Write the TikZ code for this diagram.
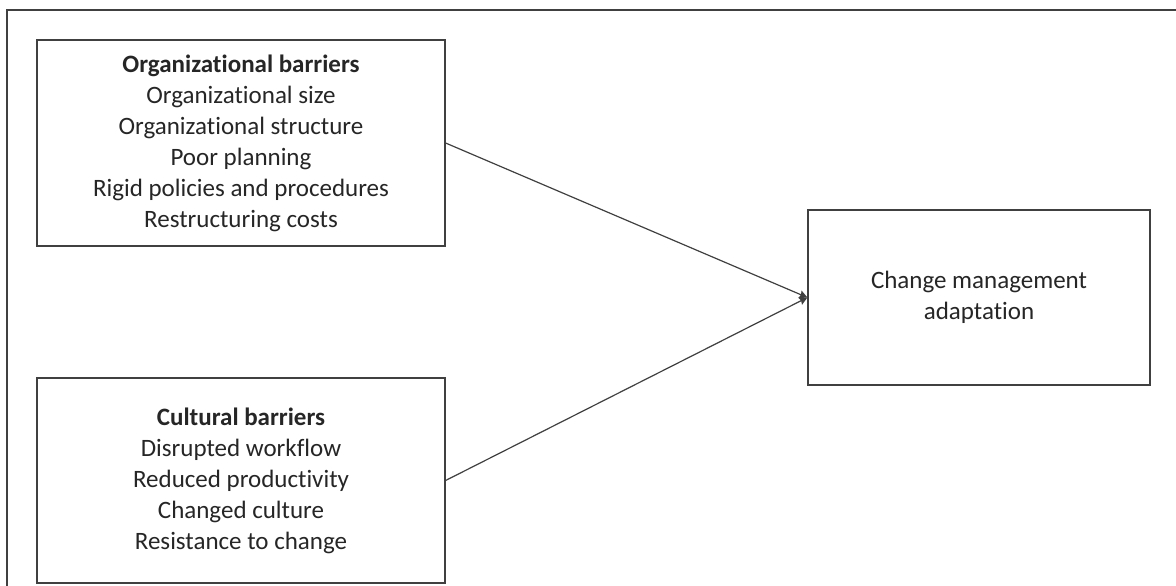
\documentclass[tikz,border=0pt]{standalone}
\usepackage{fontspec}
\setmainfont{Carlito}[Ligatures=CommonOff]
\usetikzlibrary{arrows.meta}
\definecolor{linegray}{HTML}{404040}
\definecolor{inkgray}{HTML}{262626}
\tikzset{
  barrierbox/.style={draw=linegray, line width=1.2pt, rectangle, align=center,
    text=inkgray, font=\fontsize{25}{31}\selectfont, inner sep=0pt},
  link/.style={draw=linegray, line width=1.2pt, -{Stealth[length=8pt,width=8pt,inset=1pt]}},
}
\begin{document}
\begin{tikzpicture}[x=1pt,y=1pt]
  \useasboundingbox (0,0) rectangle (1176,-586);
  \fill[white] (0,0) rectangle (1176,-586);
  % outer frame
  \draw[linegray, line width=1.8pt] (7,-590) -- (7,-10) -- (1180,-10);
  % boxes
  \node[barrierbox, minimum width=408pt, minimum height=206pt] (org) at (241,-143)
    {\textbf{Organizational barriers}\\Organizational size\\Organizational structure\\Poor planning\\Rigid policies and procedures\\Restructuring costs};
  \node[barrierbox, minimum width=408pt, minimum height=205pt] (cult) at (241,-480.5)
    {\textbf{Cultural barriers}\\Disrupted workflow\\Reduced productivity\\Changed culture\\Resistance to change};
  \node[barrierbox, minimum width=342pt, minimum height=175pt] (change) at (979,-297.5)
    {Change management\\adaptation};
  % connectors
  \draw[link] (org.east) -- (change.west);
  \draw[link] (cult.east) -- (change.west);
\end{tikzpicture}
\end{document}
